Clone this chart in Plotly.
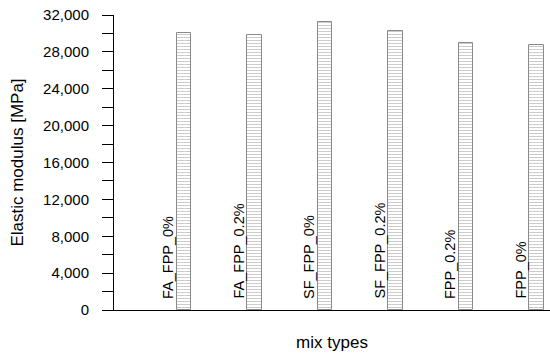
import plotly.graph_objects as go

mix_types = ["FA_FPP_0%", "FA_FPP_0.2%", "SF_FPP_0%", "SF_FPP_0.2%", "FPP_0.2%", "FPP_0%"]
elastic_modulus = [30100, 29800, 31200, 30300, 29000, 28700]
y_ticks = [0, 4000, 8000, 12000, 16000, 20000, 24000, 28000, 32000]
y_tick_labels = ["0", "4,000", "8,000", "12,000", "16,000", "20,000", "24,000", "28,000", "32,000"]

xpos = list(range(len(mix_types)))

fig = go.Figure()
fig.add_trace(go.Bar(
    x=xpos, y=elastic_modulus, width=0.2,
    marker=dict(color="white",
                line=dict(color="#8a8a8a", width=1),
                pattern=dict(shape="-", fgcolor="#9a9a9a", bgcolor="white", size=3, solidity=0.35)),
    showlegend=False,
))

for i, name in enumerate(mix_types):
    fig.add_annotation(x=xpos[i], y=0, text=name, textangle=-90, showarrow=False,
                       width=110, height=24, align="left", borderpad=0,
                       xanchor="center", yanchor="bottom", xshift=-16, yshift=10,
                       font=dict(family="Liberation Sans, Arial", size=14.5, color="black"))

fig.update_layout(
    width=550, height=359,
    margin=dict(l=114, r=0, t=15, b=49, autoexpand=False),
    plot_bgcolor="white", paper_bgcolor="white",
    font=dict(family="Liberation Sans, Arial", color="black"),
    xaxis=dict(range=[-0.993, 5.191], showticklabels=False, ticks="", showgrid=False,
               zeroline=False, showline=True, linecolor="black", linewidth=1, automargin=False,
               title=dict(text="mix types", font=dict(size=17), standoff=26)),
    yaxis=dict(range=[0, 32000], tickvals=y_ticks, ticktext=y_tick_labels,
               ticks="outside", ticklen=11, tickcolor="black", tickwidth=1,
               minor=dict(dtick=2000, ticks="outside", ticklen=11, tickcolor="black", tickwidth=1, showgrid=False),
               showgrid=False, zeroline=False, showline=True, linecolor="black", linewidth=1,
               tickfont=dict(size=15), ticklabelstandoff=10, automargin=False,
               ticklabeloverflow="allow",
               title=dict(text="Elastic modulus [MPa]", font=dict(size=17), standoff=15)),
    bargap=0,
)

# remove the page's default body margin so the figure sits at the window's top-left
fig.write_html("out.html", config={"displayModeBar": False},
               post_script="document.body.style.margin='0';")
